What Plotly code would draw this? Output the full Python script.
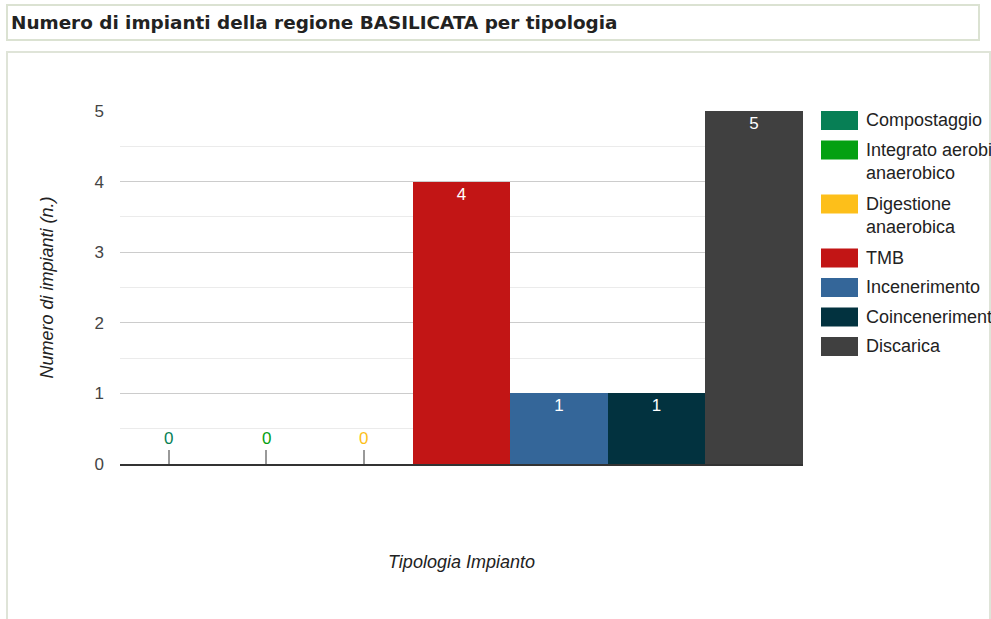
import plotly.graph_objects as go

# ---- data ----
categories = ["Compostaggio", "Integrato aerobico<br>anaerobico", "Digestione<br>anaerobica",
              "TMB", "Incenerimento", "Coincenerimento", "Discarica"]
values = [0, 0, 0, 4, 1, 1, 5]
colors = ["#077f55", "#04a011", "#fdbf1a", "#c21515", "#346699", "#02323f", "#404040"]
y_ticks = [0, 1, 2, 3, 4, 5]

W, H = 991, 619
L, R, T, B = 120, 803, 111, 464  # plot area in px
FONT = "Arial, Liberation Sans, sans-serif"
ZERO_STUB = 0.2

def xp(px):
    return (px - L) / (R - L)

def yp(py):
    return (B - py) / (B - T)

fig = go.Figure()
for name, v, c in zip(categories, values, colors):
    fig.add_trace(go.Bar(
        x=[name], y=[v], name=name.replace("<br>", " "),
        marker=dict(color=c, line=dict(width=0)),
        text=[str(v) if v != 0 else ""], textposition="inside", insidetextanchor="end",
        textfont=dict(family=FONT, size=17, color="white"),
        error_y=dict(type="data", symmetric=False, array=[ZERO_STUB if v == 0 else 0],
                     arrayminus=[0], color="#999999", thickness=2, width=0,
                     visible=(v == 0)),
        showlegend=False, cliponaxis=False,
    ))
    if v == 0:
        fig.add_annotation(x=name, y=v, xref="x", yref="y", text=str(v), showarrow=False,
                           yanchor="bottom", yshift=14,
                           font=dict(family=FONT, size=17, color=c))

shapes = []
# title box
shapes.append(dict(type="rect", xref="paper", yref="paper", x0=xp(7), x1=xp(979), y0=yp(5), y1=yp(40),
                   line=dict(color="#dbe2d2", width=2), fillcolor="rgba(0,0,0,0)", layer="below"))
# panel box
shapes.append(dict(type="rect", xref="paper", yref="paper", x0=xp(7), x1=xp(990), y0=yp(52), y1=yp(640),
                   line=dict(color="#dfe4d8", width=2), fillcolor="rgba(0,0,0,0)", layer="below"))

# legend (manual)
top = 111
for name, c in zip(categories, colors):
    lines = name.count("<br>") + 1
    shapes.append(dict(type="rect", xref="paper", yref="paper", x0=xp(821), x1=xp(858),
                       y0=yp(top), y1=yp(top + 19), line=dict(width=0), fillcolor=c))
    fig.add_annotation(x=xp(864), y=yp(top + 9.5), xref="paper", yref="paper", text=name,
                       showarrow=False, xanchor="left", yanchor="top", yshift=12.5, align="left",
                       font=dict(family=FONT, size=18, color="#222222"))
    top += 29.5 + 24.5 * (lines - 1)

fig.update_layout(
    width=W, height=H,
    margin=dict(l=L, r=W - R, t=T, b=H - B, autoexpand=False),
    paper_bgcolor="white", plot_bgcolor="white",
    barmode="relative", bargap=0,
    shapes=shapes,
    title=dict(text="<b>Numero di impianti della regione BASILICATA per tipologia</b>",
               xref="container", yref="container", x=11 / W, y=1 - 22.5 / H,
               xanchor="left", yanchor="middle",
               font=dict(family="DejaVu Sans, Verdana, sans-serif", size=18.4, color="#222222")),
    xaxis=dict(showticklabels=False, showgrid=False, showline=True, linecolor="#333333",
               linewidth=2, ticks="", fixedrange=True,
               title=dict(text="Tipologia Impianto", standoff=90,
                          font=dict(family=FONT, size=18, color="#222222", style="italic"))),
    yaxis=dict(range=[0, 5], tickvals=y_ticks, showgrid=True, gridcolor="#cccccc", gridwidth=1,
               zeroline=False, showline=False, ticks="",
               tickfont=dict(family=FONT, size=17, color="#444444"), ticklabelstandoff=15,
               minor=dict(dtick=0.5, showgrid=True, gridcolor="#ebebeb", gridwidth=1),
               title=dict(text="Numero di impianti (n.)", standoff=36,
                          font=dict(family=FONT, size=18, color="#222222", style="italic"))),
)

fig.write_html("out.html", config={"displayModeBar": False},
               post_script="document.body.style.margin='0';document.body.style.overflow='hidden';")
